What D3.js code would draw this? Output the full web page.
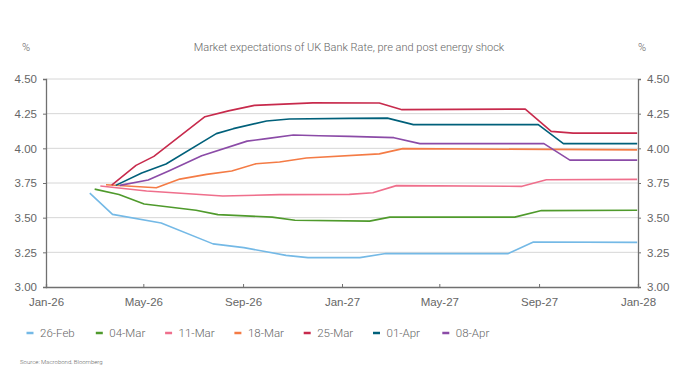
<!DOCTYPE html>
<html>
<head>
<meta charset="utf-8">
<script src="https://cdn.jsdelivr.net/npm/d3@7"></script>
<style>
  html, body { margin: 0; padding: 0; background: #fff; }
  svg { display: block; font-family: Roboto, "Liberation Sans", Arial, sans-serif; font-weight: 300; }
  .tick text, .lbl { fill: #666; }
</style>
</head>
<body>
<div id="chart"></div>
<script>
// Market expectations of UK Bank Rate, pre and post energy shock.
// Values, one curve per pricing date.

const seriesNames = ["26-Feb", "04-Mar", "11-Mar", "18-Mar", "25-Mar", "01-Apr", "08-Apr"];
const seriesColors = ["#74b9e6", "#4f9a2c", "#ef6f8c", "#f47b45", "#c72a4c", "#00607a", "#8b4ba7"];

const feb26 = [
  ["2026-02-24", 3.677], ["2026-03-24", 3.524], ["2026-05-23", 3.461], ["2026-07-26", 3.311],
  ["2026-09-02", 3.284], ["2026-10-24", 3.228], ["2026-11-20", 3.212], ["2027-01-23", 3.212],
  ["2027-02-24", 3.241], ["2027-07-25", 3.241], ["2027-08-25", 3.324], ["2027-12-31", 3.322]
];
const mar04 = [
  ["2026-03-02", 3.706], ["2026-04-01", 3.667], ["2026-05-02", 3.598], ["2026-07-05", 3.553],
  ["2026-08-01", 3.522], ["2026-10-07", 3.504], ["2026-11-04", 3.481], ["2027-02-04", 3.475],
  ["2027-03-01", 3.504], ["2027-08-02", 3.504], ["2027-09-04", 3.551], ["2027-12-31", 3.554]
];
const mar11 = [
  ["2026-03-09", 3.728], ["2026-05-05", 3.692], ["2026-08-07", 3.656], ["2026-10-16", 3.666],
  ["2027-01-10", 3.668], ["2027-02-08", 3.680], ["2027-03-09", 3.731], ["2027-08-11", 3.726],
  ["2027-09-10", 3.773], ["2027-12-31", 3.776]
];
const mar18 = [
  ["2026-03-16", 3.737], ["2026-05-17", 3.716], ["2026-06-15", 3.778], ["2026-07-18", 3.812],
  ["2026-08-18", 3.836], ["2026-09-17", 3.889], ["2026-10-16", 3.901], ["2026-11-18", 3.930],
  ["2027-02-16", 3.960], ["2027-03-17", 3.998], ["2027-12-31", 3.989]
];
const mar25 = [
  ["2026-03-23", 3.735], ["2026-04-22", 3.877], ["2026-05-14", 3.942], ["2026-07-16", 4.228],
  ["2026-08-14", 4.270], ["2026-09-15", 4.310], ["2026-11-26", 4.328], ["2027-02-16", 4.327],
  ["2027-03-16", 4.279], ["2027-08-15", 4.283], ["2027-09-16", 4.122], ["2027-10-13", 4.110],
  ["2027-12-31", 4.110]
];
const apr01 = [
  ["2026-03-28", 3.733], ["2026-04-29", 3.822], ["2026-05-29", 3.887], ["2026-07-30", 4.106],
  ["2026-08-20", 4.142], ["2026-09-30", 4.197], ["2026-10-28", 4.211], ["2027-01-10", 4.216],
  ["2027-02-26", 4.218], ["2027-03-30", 4.171], ["2027-08-31", 4.171], ["2027-10-01", 4.034],
  ["2027-12-31", 4.034]
];
const apr08 = [
  ["2026-04-02", 3.733], ["2026-05-07", 3.771], ["2026-06-02", 3.838], ["2026-07-12", 3.946],
  ["2026-09-06", 4.052], ["2026-09-30", 4.070], ["2026-11-02", 4.096], ["2026-12-04", 4.091],
  ["2027-01-10", 4.086], ["2027-03-06", 4.077], ["2027-04-07", 4.034], ["2027-09-07", 4.034],
  ["2027-10-09", 3.915], ["2027-12-31", 3.915]
];
const seriesData = [feb26, mar04, mar11, mar18, mar25, apr01, apr08];

const xTicks = ["2026-01-01", "2026-05-01", "2026-09-01", "2027-01-01", "2027-05-01", "2027-09-01", "2028-01-01"];
const yTicks = [3.00, 3.25, 3.50, 3.75, 4.00, 4.25, 4.50];

const W = 696, H = 390;
const m = { top: 79, right: 58, bottom: 103, left: 46 };
const parse = d3.utcParse("%Y-%m-%d");

const svg = d3.select("#chart").append("svg").attr("width", W).attr("height", H);

const x = d3.scaleUtc().domain([parse(xTicks[0]), parse(xTicks[xTicks.length - 1])])
  .range([m.left, W - m.right]);
const y = d3.scaleLinear().domain([3, 4.5]).range([H - m.bottom, m.top]);

// gridlines
svg.append("g").selectAll("line").data(yTicks.slice(1)).enter().append("line")
  .attr("x1", m.left).attr("x2", W - m.right)
  .attr("y1", (d) => y(d)).attr("y2", (d) => y(d))
  .attr("stroke", "#d6d6d6").attr("stroke-width", 1);

// axes
const fmtY = d3.format(".2f");
const left = svg.append("g").attr("transform", `translate(${m.left},0)`)
  .call(d3.axisLeft(y).tickValues(yTicks).tickFormat(fmtY).tickSize(3).tickPadding(6));
const right = svg.append("g").attr("transform", `translate(${W - m.right},0)`)
  .call(d3.axisRight(y).tickValues(yTicks).tickFormat(fmtY).tickSize(3).tickPadding(6));
const bottom = svg.append("g").attr("transform", `translate(0,${H - m.bottom})`)
  .call(d3.axisBottom(x).tickValues(xTicks.map(parse)).tickFormat(d3.utcFormat("%b-%y"))
    .tickSize(-3).tickPadding(11));
[left, right, bottom].forEach((g) => {
  g.select(".domain").attr("stroke", "#707070").attr("stroke-width", 1.3);
  g.selectAll(".tick line").attr("stroke", "#707070");
  g.selectAll(".tick text").attr("font-size", 11.5).attr("fill", "#666")
    .attr("font-family", null);
});

// series lines
const line = d3.line().x((d) => x(parse(d[0]))).y((d) => y(d[1]));
seriesData.forEach((data, i) => {
  svg.append("path").datum(data)
    .attr("fill", "none").attr("stroke", seriesColors[i])
    .attr("stroke-width", 1.6).attr("stroke-linejoin", "round")
    .attr("d", line);
});

// title and unit labels
svg.append("text").attr("class", "lbl").attr("x", 349).attr("y", 51)
  .attr("text-anchor", "middle").attr("font-size", 11)
  .text("Market expectations of UK Bank Rate, pre and post energy shock");
svg.append("text").attr("class", "lbl").attr("x", 26).attr("y", 51)
  .attr("text-anchor", "middle").attr("font-size", 11).text("%");
svg.append("text").attr("class", "lbl").attr("x", 642).attr("y", 51)
  .attr("text-anchor", "middle").attr("font-size", 11).text("%");

// legend
const leg = svg.append("g").selectAll("g").data(seriesNames).enter().append("g")
  .attr("transform", (d, i) => `translate(${26.5 + i * 69.3},333)`);
leg.append("line").attr("x1", 0).attr("x2", 7).attr("y1", 0).attr("y2", 0)
  .attr("stroke", (d, i) => seriesColors[i]).attr("stroke-width", 2.5);
leg.append("text").attr("class", "lbl").attr("x", 13.5).attr("y", 4)
  .attr("font-size", 11.5).text((d) => d);

// source
svg.append("text").attr("class", "lbl").attr("x", 20).attr("y", 364)
  .attr("font-size", 6).attr("fill", "#777").text("Source: Macrobond, Bloomberg");
</script>
</body>
</html>
